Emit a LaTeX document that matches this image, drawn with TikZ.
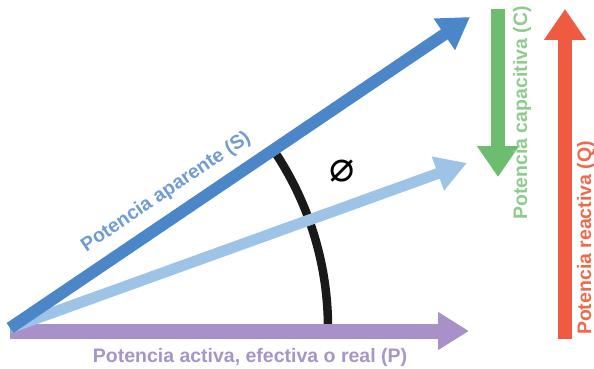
\documentclass[tikz,border=0pt]{standalone}
\usepackage{fontspec}
\setmainfont{Liberation Sans}
\newfontfamily\symfont{DejaVu Sans}
\usetikzlibrary{arrows.meta}
\definecolor{sblue}{HTML}{4A86C8}
\definecolor{stext}{HTML}{6E9CD3}
\definecolor{lblue}{HTML}{9DC3E6}
\definecolor{ppurple}{HTML}{A890C9}
\definecolor{ptext}{HTML}{A794C8}
\definecolor{cgreen}{HTML}{6CBE6E}
\definecolor{ctext}{HTML}{8FCB8F}
\definecolor{qred}{HTML}{EE5B40}
\definecolor{qtext}{HTML}{EE6A4C}

\begin{document}
\begin{tikzpicture}[x=1pt,y=-1pt,
    vec/.style={line width=#1},
    head/.style={-{Triangle[length=31pt,width=#1]}},
    lbl/.style={font=\fontsize{19.5}{20}\selectfont\bfseries, inner sep=0pt}]
    \useasboundingbox (0,0) rectangle (594,369);
    \coordinate (o) at (10,328);
    \coordinate (s) at (470,17);
    \coordinate (l) at (467,163);
    \coordinate (p0) at (10,331);
    \coordinate (p) at (469,331);
    \coordinate (c0) at (498,9);
    \coordinate (c) at (498,177);
    \coordinate (q0) at (565,339);
    \coordinate (q) at (565,9);
    \coordinate (a0) at (328,328);
    % angle
    \draw[line width=8.5pt, black!90] (a0) arc[start angle=0, end angle=-33, radius=318];
    \node[inner sep=0pt, font=\fontsize{42}{42}\selectfont\symfont] (phi) at (342,171) {⌀};
    % vectors
    \draw[vec=15pt, head=36pt, ppurple] (p0) -- (p);
    \draw[vec=11pt, head=34pt, lblue] (o) -- (l);
    \draw[vec=12pt, head=36pt, sblue] (o) -- (s)
      node[lbl, pos=0.37, sloped, above=10pt, text=stext] (sl) {Potencia aparente (S)};
    \draw[vec=14pt, head=40pt, cgreen] (c0) -- (c);
    \draw[vec=14pt, head=40pt, qred] (q0) -- (q);
    % labels
    \node[lbl, text=ptext] (pl) at (250,357) {Potencia activa, efectiva o real (P)};
    \node[lbl, text=ctext, rotate=90] (cl) at (522,113) {Potencia capacitiva (C)};
    \node[lbl, text=qtext, rotate=90] (ql) at (586,238) {Potencia reactiva (Q)};
\end{tikzpicture}
\end{document}
